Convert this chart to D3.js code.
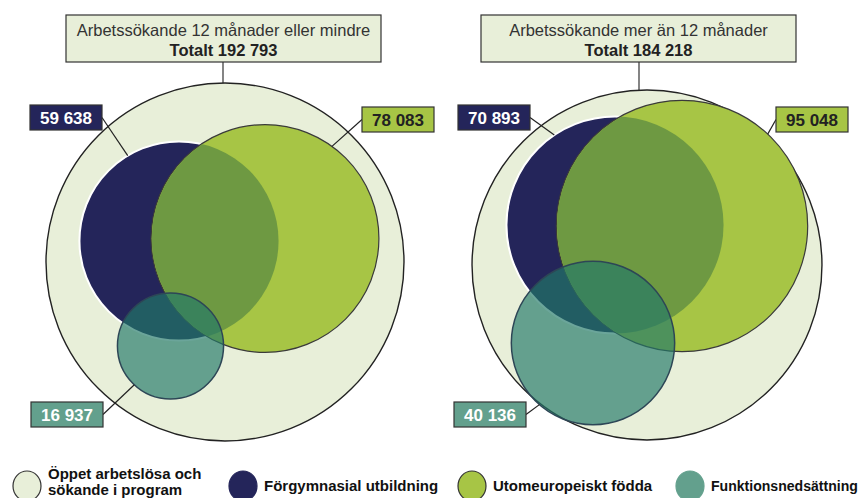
<!DOCTYPE html>
<html>
<head>
<meta charset="utf-8">
<script src="https://cdn.jsdelivr.net/npm/d3@7"></script>
<style>
  body { margin: 0; background: #fff; }
  svg { display: block; font-family: "Liberation Sans", Arial, sans-serif; }
</style>
</head>
<body>
<svg id="viz" width="866" height="498"></svg>
<script>
// data
var panelTitles = ["Arbetssökande 12 månader eller mindre", "Arbetssökande mer än 12 månader"]
var totals = [192793, 184218]
var groupNames = ["Förgymnasial utbildning", "Utomeuropeiskt födda", "Funktionsnedsättning"]
var forgymnasial = [59638, 70893]
var utomeuropeiskt = [78083, 95048]
var funktionsned = [16937, 40136]
var legendLabels = [["Öppet arbetslösa och", "sökande i program"], ["Förgymnasial utbildning"], ["Utomeuropeiskt födda"], ["Funktionsnedsättning"]]

var width = 866, height = 498
var cream = '#e8efd9', navy = '#24255a', green = '#a7c545', olive = '#6e9942'
var tealFill = 'rgb(35,121,105)', tealLegend = '#63a08d'

var sv = d3.formatLocale({decimal: ",", thousands: "\u00a0", grouping: [3], currency: ["", " kr"]})
var fmt = sv.format(",d")

// area-proportional radius, same scale for both panels
var rScale = d3.scaleSqrt().domain([0, totals[0]]).range([0, 179])

// layout per panel (centres are offsets from the big circle centre)
var layout = [
  {cx: 225, cy: 262, title: {x: 66, y: 15, w: 315, h: 47}, conn: 223,
   offs: [[-46, -21], [40, -23.5], [-54.5, 84]],
   boxes: [{x: 30, y: 105, side: 'r', ang: -121}, {x: 362, y: 107, side: 'l', ang: -54}, {x: 31, y: 402, side: 'r', ang: 133}]},
  {cx: 647, cy: 265, title: {x: 481, y: 15, w: 315, h: 47}, conn: 639,
   offs: [[-32, -40], [35, -39], [-54, 78]],
   boxes: [{x: 458, y: 105, side: 'r', ang: -124}, {x: 776, y: 107, side: 'l', ang: -47}, {x: 454, y: 402, side: 'r', ang: 131}]}
]

var svg = d3.select('svg#viz')
var defs = svg.append('defs')

panelTitles.forEach(function(title, i) {
  var L = layout[i]
  var vals = [forgymnasial[i], utomeuropeiskt[i], funktionsned[i]]
  var g = svg.append('g').attr('class', 'panel')

  var R = rScale(totals[i])
  var circles = vals.map(function(v, j) {
    return {cx: L.cx + L.offs[j][0], cy: L.cy + L.offs[j][1], r: rScale(v), v: v}
  })

  // title box + connector
  g.append('line')
    .attr('x1', L.conn).attr('x2', L.conn)
    .attr('y1', L.title.y + L.title.h).attr('y2', L.cy - Math.sqrt(R * R - (L.conn - L.cx) * (L.conn - L.cx)))
    .attr('stroke', '#333').attr('stroke-width', 1.2)
  g.append('rect')
    .attr('x', L.title.x).attr('y', L.title.y).attr('width', L.title.w).attr('height', L.title.h)
    .attr('fill', cream).attr('stroke', '#333').attr('stroke-width', 1.2)
  g.append('text')
    .attr('x', L.title.x + L.title.w / 2).attr('y', L.title.y + 21)
    .attr('text-anchor', 'middle').style('font-size', '16.5px').attr('fill', '#333')
    .text(title)
  g.append('text')
    .attr('x', L.title.x + L.title.w / 2).attr('y', L.title.y + 40.5)
    .attr('text-anchor', 'middle').style('font-size', '16.5px').style('font-weight', 'bold').attr('fill', '#222')
    .text('Totalt ' + fmt(totals[i]))

  // big circle
  g.append('circle').attr('cx', L.cx).attr('cy', L.cy).attr('r', R)
    .attr('fill', cream).attr('stroke', '#222').attr('stroke-width', 1.4)

  // navy
  g.append('circle').attr('cx', circles[0].cx).attr('cy', circles[0].cy).attr('r', circles[0].r)
    .attr('fill', navy).attr('stroke', '#fff').attr('stroke-width', 2)

  // green
  g.append('circle').attr('cx', circles[1].cx).attr('cy', circles[1].cy).attr('r', circles[1].r)
    .attr('fill', green).attr('stroke', '#3a3a3a').attr('stroke-width', 1.2)

  // navy ∩ green
  var clipId = 'clipGreen' + i
  defs.append('clipPath').attr('id', clipId)
    .append('circle').attr('cx', circles[1].cx).attr('cy', circles[1].cy).attr('r', circles[1].r - 0.6)
  g.append('circle').attr('cx', circles[0].cx).attr('cy', circles[0].cy).attr('r', circles[0].r)
    .attr('fill', olive).attr('clip-path', 'url(#' + clipId + ')')

  // teal
  g.append('circle').attr('cx', circles[2].cx).attr('cy', circles[2].cy).attr('r', circles[2].r)
    .attr('fill', tealFill).attr('fill-opacity', 0.67)
    .attr('stroke', '#2d4656').attr('stroke-width', 1.5)

  // value labels with leaders
  var boxFill = [navy, green, tealLegend]
  var textFill = ['#fff', '#222', '#fff']
  var bw = 72, bh = 25
  L.boxes.forEach(function(b, j) {
    var c = circles[j]
    var a = b.ang * Math.PI / 180
    var sx = b.side == 'r' ? b.x + bw : b.x
    g.append('line')
      .attr('x1', sx).attr('y1', b.y + bh / 2)
      .attr('x2', c.cx + c.r * Math.cos(a)).attr('y2', c.cy + c.r * Math.sin(a))
      .attr('stroke', '#222').attr('stroke-width', 1.2)
    g.append('rect').attr('x', b.x).attr('y', b.y).attr('width', bw).attr('height', bh)
      .attr('fill', boxFill[j]).attr('stroke', '#333').attr('stroke-width', 1.2)
    g.append('text').attr('x', b.x + bw / 2).attr('y', b.y + 19)
      .attr('text-anchor', 'middle').style('font-size', '17px').style('font-weight', 'bold')
      .attr('fill', textFill[j])
      .text(fmt(c.v))
  })
})

// legend
var legendFill = [cream, navy, green, tealLegend]
var legendX = [27, 243, 472, 690]
var leg = svg.append('g').attr('class', 'legend')
legendLabels.forEach(function(lines, k) {
  leg.append('ellipse').attr('cx', legendX[k]).attr('cy', 486).attr('rx', 14).attr('ry', 15)
    .attr('fill', legendFill[k]).attr('stroke', k == 1 || k == 3 ? legendFill[k] : '#333').attr('stroke-width', 1.2)
  var tx = legendX[k] + 21
  var room = width - 8 - tx
  var t = leg.append('text').attr('x', tx).attr('y', lines.length > 1 ? 479 : 491)
    .style('font-size', '15px').style('font-weight', 'bold').attr('fill', '#111')
  if (lines.length == 1) {
    t.text(lines[0])
    // shrink the font if it would run past the right edge
    var len = t.node().getComputedTextLength()
    if (len > room) t.style('font-size', (15 * room / len).toFixed(2) + 'px')
  } else {
    lines.forEach(function(s, n) {
      t.append('tspan').attr('x', tx).attr('dy', n == 0 ? 0 : 16).text(s)
    })
  }
})
</script>
</body>
</html>
